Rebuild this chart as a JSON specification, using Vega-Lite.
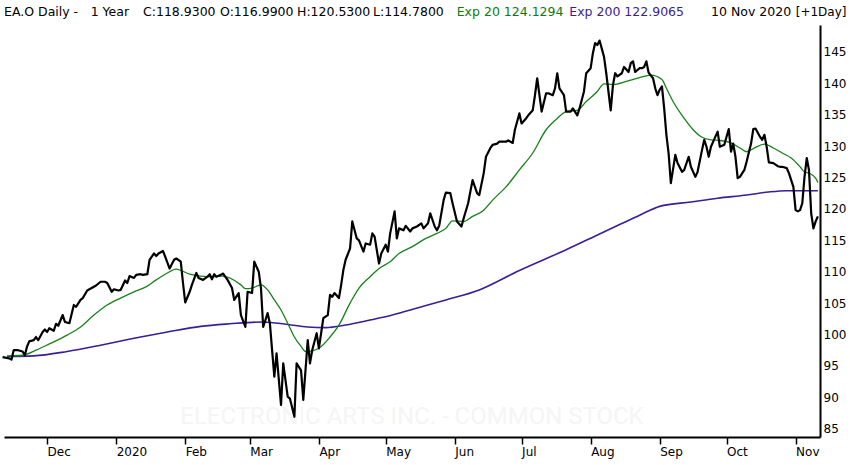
{
  "$schema": "https://vega.github.io/schema/vega-lite/v6.json",
  "description": "EA.O daily close, 1 year, with 20 and 200 day exponential averages.",
  "width": 816,
  "height": 412,
  "autosize": {"type": "none"},
  "padding": {"left": 4, "top": 25, "right": 30, "bottom": 28},
  "background": "#ffffff",
  "datasets": {
    "price": [
      {"date": "2019-11-11", "value": 96.4}, {"date": "2019-11-14", "value": 96.2}, {"date": "2019-11-15", "value": 96.0},
      {"date": "2019-11-16", "value": 97.5}, {"date": "2019-11-18", "value": 97.5}, {"date": "2019-11-20", "value": 97.3},
      {"date": "2019-11-21", "value": 96.7}, {"date": "2019-11-22", "value": 98.1}, {"date": "2019-11-23", "value": 98.9},
      {"date": "2019-11-25", "value": 99.1}, {"date": "2019-11-26", "value": 99.6}, {"date": "2019-11-27", "value": 99.1},
      {"date": "2019-11-29", "value": 100.4}, {"date": "2019-11-30", "value": 100.8}, {"date": "2019-12-01", "value": 100.4},
      {"date": "2019-12-02", "value": 101.0}, {"date": "2019-12-04", "value": 100.6}, {"date": "2019-12-05", "value": 101.7},
      {"date": "2019-12-06", "value": 101.4}, {"date": "2019-12-08", "value": 103.1}, {"date": "2019-12-09", "value": 102.0},
      {"date": "2019-12-11", "value": 101.8}, {"date": "2019-12-13", "value": 104.7}, {"date": "2019-12-14", "value": 104.4},
      {"date": "2019-12-16", "value": 105.5}, {"date": "2019-12-17", "value": 105.8}, {"date": "2019-12-19", "value": 107.0},
      {"date": "2019-12-21", "value": 107.4}, {"date": "2019-12-23", "value": 107.8}, {"date": "2019-12-25", "value": 108.4},
      {"date": "2019-12-27", "value": 108.4}, {"date": "2019-12-28", "value": 108.2}, {"date": "2019-12-30", "value": 106.8},
      {"date": "2019-12-31", "value": 107.2}, {"date": "2020-01-02", "value": 107.0}, {"date": "2020-01-03", "value": 107.1},
      {"date": "2020-01-05", "value": 108.6}, {"date": "2020-01-06", "value": 108.2}, {"date": "2020-01-07", "value": 109.3},
      {"date": "2020-01-09", "value": 109.0}, {"date": "2020-01-10", "value": 109.5}, {"date": "2020-01-12", "value": 109.6},
      {"date": "2020-01-13", "value": 109.5}, {"date": "2020-01-15", "value": 109.6}, {"date": "2020-01-16", "value": 111.9},
      {"date": "2020-01-18", "value": 112.9}, {"date": "2020-01-19", "value": 112.5}, {"date": "2020-01-20", "value": 112.9},
      {"date": "2020-01-22", "value": 113.3}, {"date": "2020-01-23", "value": 112.4}, {"date": "2020-01-25", "value": 110.5},
      {"date": "2020-01-27", "value": 111.9}, {"date": "2020-01-28", "value": 112.1}, {"date": "2020-01-30", "value": 111.6},
      {"date": "2020-01-31", "value": 108.2}, {"date": "2020-02-01", "value": 105.1}, {"date": "2020-02-03", "value": 106.8},
      {"date": "2020-02-04", "value": 107.9}, {"date": "2020-02-06", "value": 109.8}, {"date": "2020-02-07", "value": 109.0},
      {"date": "2020-02-09", "value": 108.7}, {"date": "2020-02-11", "value": 109.2}, {"date": "2020-02-12", "value": 109.6},
      {"date": "2020-02-13", "value": 108.8}, {"date": "2020-02-14", "value": 109.6}, {"date": "2020-02-15", "value": 109.2},
      {"date": "2020-02-17", "value": 109.5}, {"date": "2020-02-18", "value": 109.7}, {"date": "2020-02-20", "value": 108.7},
      {"date": "2020-02-22", "value": 107.4}, {"date": "2020-02-23", "value": 105.5}, {"date": "2020-02-25", "value": 106.6},
      {"date": "2020-02-26", "value": 103.1}, {"date": "2020-02-28", "value": 101.2}, {"date": "2020-02-29", "value": 106.8},
      {"date": "2020-03-02", "value": 106.6}, {"date": "2020-03-03", "value": 111.6}, {"date": "2020-03-05", "value": 110.0},
      {"date": "2020-03-06", "value": 107.4}, {"date": "2020-03-07", "value": 101.2}, {"date": "2020-03-09", "value": 103.4},
      {"date": "2020-03-10", "value": 101.8}, {"date": "2020-03-11", "value": 97.5}, {"date": "2020-03-12", "value": 93.3},
      {"date": "2020-03-13", "value": 97.0}, {"date": "2020-03-15", "value": 88.8}, {"date": "2020-03-16", "value": 95.4},
      {"date": "2020-03-18", "value": 90.1}, {"date": "2020-03-19", "value": 89.8}, {"date": "2020-03-21", "value": 86.9},
      {"date": "2020-03-22", "value": 95.4}, {"date": "2020-03-24", "value": 94.3}, {"date": "2020-03-25", "value": 89.6},
      {"date": "2020-03-27", "value": 99.1}, {"date": "2020-03-28", "value": 95.4}, {"date": "2020-03-29", "value": 97.5},
      {"date": "2020-03-31", "value": 100.2}, {"date": "2020-04-01", "value": 97.8}, {"date": "2020-04-02", "value": 100.2},
      {"date": "2020-04-03", "value": 102.6}, {"date": "2020-04-05", "value": 103.1}, {"date": "2020-04-06", "value": 106.3},
      {"date": "2020-04-07", "value": 106.0}, {"date": "2020-04-08", "value": 106.6}, {"date": "2020-04-10", "value": 105.8},
      {"date": "2020-04-11", "value": 107.9}, {"date": "2020-04-12", "value": 110.3}, {"date": "2020-04-13", "value": 111.9},
      {"date": "2020-04-15", "value": 113.7}, {"date": "2020-04-16", "value": 118.0}, {"date": "2020-04-18", "value": 115.3},
      {"date": "2020-04-19", "value": 115.0}, {"date": "2020-04-21", "value": 113.2}, {"date": "2020-04-22", "value": 114.5},
      {"date": "2020-04-24", "value": 114.3}, {"date": "2020-04-25", "value": 116.1}, {"date": "2020-04-26", "value": 115.6},
      {"date": "2020-04-28", "value": 111.3}, {"date": "2020-04-29", "value": 112.9}, {"date": "2020-05-01", "value": 114.3},
      {"date": "2020-05-02", "value": 113.2}, {"date": "2020-05-03", "value": 116.1}, {"date": "2020-05-05", "value": 119.6},
      {"date": "2020-05-06", "value": 115.3}, {"date": "2020-05-07", "value": 116.9}, {"date": "2020-05-09", "value": 116.6},
      {"date": "2020-05-10", "value": 117.3}, {"date": "2020-05-12", "value": 116.4}, {"date": "2020-05-13", "value": 116.9},
      {"date": "2020-05-15", "value": 117.2}, {"date": "2020-05-17", "value": 117.7}, {"date": "2020-05-18", "value": 116.9},
      {"date": "2020-05-20", "value": 117.7}, {"date": "2020-05-21", "value": 119.3}, {"date": "2020-05-23", "value": 117.2},
      {"date": "2020-05-24", "value": 116.6}, {"date": "2020-05-25", "value": 117.3}, {"date": "2020-05-27", "value": 121.4},
      {"date": "2020-05-28", "value": 122.6}, {"date": "2020-05-30", "value": 122.5}, {"date": "2020-05-31", "value": 120.9},
      {"date": "2020-06-02", "value": 118.0}, {"date": "2020-06-04", "value": 117.2}, {"date": "2020-06-05", "value": 118.5},
      {"date": "2020-06-07", "value": 120.9}, {"date": "2020-06-09", "value": 124.6}, {"date": "2020-06-11", "value": 122.5},
      {"date": "2020-06-12", "value": 122.2}, {"date": "2020-06-14", "value": 125.7}, {"date": "2020-06-15", "value": 128.3},
      {"date": "2020-06-17", "value": 129.7}, {"date": "2020-06-18", "value": 130.2}, {"date": "2020-06-20", "value": 130.4},
      {"date": "2020-06-21", "value": 130.7}, {"date": "2020-06-24", "value": 130.7}, {"date": "2020-06-25", "value": 130.9},
      {"date": "2020-06-27", "value": 130.5}, {"date": "2020-06-28", "value": 132.6}, {"date": "2020-06-30", "value": 135.2},
      {"date": "2020-07-01", "value": 133.6}, {"date": "2020-07-03", "value": 134.4}, {"date": "2020-07-04", "value": 134.9},
      {"date": "2020-07-06", "value": 135.7}, {"date": "2020-07-07", "value": 138.1}, {"date": "2020-07-08", "value": 140.8},
      {"date": "2020-07-10", "value": 135.5}, {"date": "2020-07-12", "value": 138.4}, {"date": "2020-07-13", "value": 138.4},
      {"date": "2020-07-15", "value": 138.1}, {"date": "2020-07-16", "value": 139.2}, {"date": "2020-07-17", "value": 141.6},
      {"date": "2020-07-18", "value": 139.2}, {"date": "2020-07-20", "value": 138.1}, {"date": "2020-07-21", "value": 135.5},
      {"date": "2020-07-23", "value": 135.5}, {"date": "2020-07-24", "value": 136.0}, {"date": "2020-07-26", "value": 134.9},
      {"date": "2020-07-27", "value": 136.0}, {"date": "2020-07-29", "value": 138.7}, {"date": "2020-07-30", "value": 141.6},
      {"date": "2020-08-01", "value": 142.4}, {"date": "2020-08-02", "value": 144.8}, {"date": "2020-08-03", "value": 146.4},
      {"date": "2020-08-04", "value": 146.1}, {"date": "2020-08-05", "value": 146.8}, {"date": "2020-08-07", "value": 144.2},
      {"date": "2020-08-08", "value": 141.6}, {"date": "2020-08-10", "value": 135.7}, {"date": "2020-08-11", "value": 139.7},
      {"date": "2020-08-12", "value": 141.6}, {"date": "2020-08-13", "value": 141.1}, {"date": "2020-08-15", "value": 141.6},
      {"date": "2020-08-16", "value": 142.6}, {"date": "2020-08-18", "value": 141.8}, {"date": "2020-08-19", "value": 143.2},
      {"date": "2020-08-20", "value": 143.5}, {"date": "2020-08-21", "value": 141.8}, {"date": "2020-08-23", "value": 142.4},
      {"date": "2020-08-24", "value": 142.4}, {"date": "2020-08-25", "value": 142.6}, {"date": "2020-08-26", "value": 143.5},
      {"date": "2020-08-27", "value": 141.7}, {"date": "2020-08-29", "value": 140.8}, {"date": "2020-08-30", "value": 139.2},
      {"date": "2020-08-31", "value": 138.1}, {"date": "2020-09-01", "value": 139.0}, {"date": "2020-09-02", "value": 139.5},
      {"date": "2020-09-03", "value": 136.0}, {"date": "2020-09-04", "value": 131.8}, {"date": "2020-09-05", "value": 128.8},
      {"date": "2020-09-06", "value": 124.1}, {"date": "2020-09-08", "value": 128.6}, {"date": "2020-09-09", "value": 127.3},
      {"date": "2020-09-11", "value": 125.9}, {"date": "2020-09-12", "value": 126.2}, {"date": "2020-09-14", "value": 128.3},
      {"date": "2020-09-15", "value": 126.7}, {"date": "2020-09-17", "value": 125.1}, {"date": "2020-09-18", "value": 125.9},
      {"date": "2020-09-20", "value": 129.4}, {"date": "2020-09-21", "value": 131.0}, {"date": "2020-09-22", "value": 129.9},
      {"date": "2020-09-23", "value": 128.3}, {"date": "2020-09-24", "value": 129.9}, {"date": "2020-09-26", "value": 131.5},
      {"date": "2020-09-27", "value": 132.3}, {"date": "2020-09-28", "value": 129.9}, {"date": "2020-09-30", "value": 130.2},
      {"date": "2020-10-01", "value": 131.5}, {"date": "2020-10-02", "value": 132.7}, {"date": "2020-10-03", "value": 129.1},
      {"date": "2020-10-04", "value": 130.4}, {"date": "2020-10-05", "value": 128.3}, {"date": "2020-10-06", "value": 124.9},
      {"date": "2020-10-07", "value": 125.1}, {"date": "2020-10-09", "value": 126.2}, {"date": "2020-10-10", "value": 127.5},
      {"date": "2020-10-12", "value": 130.4}, {"date": "2020-10-13", "value": 132.7}, {"date": "2020-10-14", "value": 132.8},
      {"date": "2020-10-16", "value": 131.5}, {"date": "2020-10-17", "value": 131.0}, {"date": "2020-10-18", "value": 131.8},
      {"date": "2020-10-19", "value": 129.9}, {"date": "2020-10-20", "value": 127.4}, {"date": "2020-10-22", "value": 127.3},
      {"date": "2020-10-24", "value": 126.8}, {"date": "2020-10-25", "value": 126.7}, {"date": "2020-10-26", "value": 126.7},
      {"date": "2020-10-28", "value": 126.5}, {"date": "2020-10-29", "value": 125.7}, {"date": "2020-10-31", "value": 123.5},
      {"date": "2020-11-01", "value": 119.8}, {"date": "2020-11-02", "value": 119.6}, {"date": "2020-11-03", "value": 119.8},
      {"date": "2020-11-04", "value": 120.9}, {"date": "2020-11-05", "value": 125.1}, {"date": "2020-11-06", "value": 128.1},
      {"date": "2020-11-07", "value": 126.2}, {"date": "2020-11-08", "value": 119.3}, {"date": "2020-11-09", "value": 116.9},
      {"date": "2020-11-10", "value": 118.0}, {"date": "2020-11-11", "value": 118.8}
    ],
    "ema20": [
      {"date": "2019-11-13", "value": 96.6}, {"date": "2019-11-20", "value": 96.7}, {"date": "2019-11-26", "value": 97.5},
      {"date": "2019-12-02", "value": 98.5}, {"date": "2019-12-10", "value": 99.9}, {"date": "2019-12-16", "value": 101.2},
      {"date": "2019-12-22", "value": 103.1}, {"date": "2019-12-28", "value": 104.7}, {"date": "2020-01-03", "value": 105.8},
      {"date": "2020-01-09", "value": 106.8}, {"date": "2020-01-15", "value": 107.7}, {"date": "2020-01-19", "value": 108.7},
      {"date": "2020-01-24", "value": 109.8}, {"date": "2020-01-28", "value": 110.4}, {"date": "2020-01-30", "value": 110.2},
      {"date": "2020-02-03", "value": 109.6}, {"date": "2020-02-08", "value": 109.3}, {"date": "2020-02-14", "value": 109.2},
      {"date": "2020-02-18", "value": 109.3}, {"date": "2020-02-21", "value": 109.0}, {"date": "2020-02-26", "value": 107.9},
      {"date": "2020-02-28", "value": 107.3}, {"date": "2020-03-02", "value": 107.4}, {"date": "2020-03-06", "value": 107.9},
      {"date": "2020-03-09", "value": 107.1}, {"date": "2020-03-12", "value": 105.5}, {"date": "2020-03-15", "value": 103.9},
      {"date": "2020-03-18", "value": 101.8}, {"date": "2020-03-21", "value": 99.6}, {"date": "2020-03-24", "value": 98.1},
      {"date": "2020-03-26", "value": 97.3}, {"date": "2020-03-29", "value": 97.4}, {"date": "2020-04-01", "value": 97.8},
      {"date": "2020-04-06", "value": 99.6}, {"date": "2020-04-10", "value": 101.5}, {"date": "2020-04-15", "value": 105.0},
      {"date": "2020-04-19", "value": 107.4}, {"date": "2020-04-24", "value": 109.2}, {"date": "2020-04-28", "value": 110.5},
      {"date": "2020-05-03", "value": 111.6}, {"date": "2020-05-07", "value": 112.9}, {"date": "2020-05-13", "value": 114.0},
      {"date": "2020-05-19", "value": 115.3}, {"date": "2020-05-24", "value": 116.1}, {"date": "2020-05-28", "value": 116.9},
      {"date": "2020-05-31", "value": 118.1}, {"date": "2020-06-05", "value": 118.0}, {"date": "2020-06-09", "value": 118.8},
      {"date": "2020-06-14", "value": 119.8}, {"date": "2020-06-18", "value": 121.4}, {"date": "2020-06-24", "value": 123.5},
      {"date": "2020-06-30", "value": 126.2}, {"date": "2020-07-06", "value": 128.9}, {"date": "2020-07-12", "value": 132.6},
      {"date": "2020-07-17", "value": 134.4}, {"date": "2020-07-21", "value": 135.5}, {"date": "2020-07-26", "value": 135.7},
      {"date": "2020-07-30", "value": 137.1}, {"date": "2020-08-04", "value": 138.7}, {"date": "2020-08-07", "value": 139.9},
      {"date": "2020-08-11", "value": 139.8}, {"date": "2020-08-17", "value": 140.3}, {"date": "2020-08-23", "value": 140.9},
      {"date": "2020-08-28", "value": 141.3}, {"date": "2020-09-02", "value": 140.6}, {"date": "2020-09-04", "value": 139.2},
      {"date": "2020-09-07", "value": 137.1}, {"date": "2020-09-12", "value": 134.4}, {"date": "2020-09-16", "value": 132.6},
      {"date": "2020-09-20", "value": 131.4}, {"date": "2020-09-24", "value": 131.0}, {"date": "2020-09-28", "value": 130.9},
      {"date": "2020-10-03", "value": 130.5}, {"date": "2020-10-07", "value": 129.7}, {"date": "2020-10-10", "value": 129.1},
      {"date": "2020-10-14", "value": 129.8}, {"date": "2020-10-18", "value": 130.3}, {"date": "2020-10-22", "value": 129.7},
      {"date": "2020-10-26", "value": 128.9}, {"date": "2020-10-30", "value": 128.1}, {"date": "2020-11-03", "value": 126.7},
      {"date": "2020-11-05", "value": 125.9}, {"date": "2020-11-07", "value": 125.7}, {"date": "2020-11-10", "value": 124.9},
      {"date": "2020-11-11", "value": 124.2}
    ],
    "ema200": [
      {"date": "2019-11-13", "value": 96.5}, {"date": "2019-11-25", "value": 96.6}, {"date": "2019-12-10", "value": 97.3},
      {"date": "2019-12-25", "value": 98.3}, {"date": "2020-01-09", "value": 99.4}, {"date": "2020-01-24", "value": 100.4},
      {"date": "2020-02-08", "value": 101.3}, {"date": "2020-02-21", "value": 101.7}, {"date": "2020-03-07", "value": 102.0},
      {"date": "2020-03-18", "value": 101.6}, {"date": "2020-03-27", "value": 101.2}, {"date": "2020-04-04", "value": 101.1},
      {"date": "2020-04-13", "value": 101.5}, {"date": "2020-04-24", "value": 102.3}, {"date": "2020-05-04", "value": 103.1},
      {"date": "2020-05-16", "value": 104.3}, {"date": "2020-05-28", "value": 105.5}, {"date": "2020-06-12", "value": 107.1},
      {"date": "2020-06-30", "value": 110.2}, {"date": "2020-07-21", "value": 113.5}, {"date": "2020-08-05", "value": 116.0},
      {"date": "2020-08-14", "value": 117.5}, {"date": "2020-08-23", "value": 119.0}, {"date": "2020-09-01", "value": 120.4},
      {"date": "2020-09-15", "value": 121.1}, {"date": "2020-09-27", "value": 121.7}, {"date": "2020-10-10", "value": 122.2},
      {"date": "2020-10-20", "value": 122.7}, {"date": "2020-10-28", "value": 122.9}, {"date": "2020-11-06", "value": 122.9},
      {"date": "2020-11-11", "value": 122.9}
    ]
  },
  "layer": [
    {
      "data": {"values": [{}]},
      "mark": {"type": "text", "text": "ELECTRONIC ARTS INC. - COMMON STOCK", "font": "Roboto", "fontSize": 24, "color": "#f5f5f5", "align": "center", "baseline": "middle"},
      "encoding": {
        "x": {"datum": {"year": 2020, "month": 5, "date": 12, "hours": 19, "utc": true}, "type": "temporal", "title": null},
        "y": {"datum": 86.86, "type": "quantitative", "title": null}
      }
    },
    {
      "data": {"name": "ema200"},
      "mark": {"type": "line", "color": "#3b1d98", "strokeWidth": 1.6, "interpolate": "monotone"},
      "encoding": {
        "x": {"field": "date", "type": "temporal", "title": null},
        "y": {"field": "value", "type": "quantitative", "title": null}
      }
    },
    {
      "data": {"name": "ema20"},
      "mark": {"type": "line", "color": "#17801a", "strokeWidth": 1.3, "interpolate": "monotone"},
      "encoding": {
        "x": {"field": "date", "type": "temporal", "title": null},
        "y": {"field": "value", "type": "quantitative", "title": null}
      }
    },
    {
      "data": {"name": "price"},
      "mark": {"type": "line", "color": "#000000", "strokeWidth": 2.2, "strokeJoin": "round"},
      "encoding": {
        "x": {
          "field": "date",
          "type": "temporal",
          "title": null,
          "scale": {"domain": [{"year": 2019, "month": 11, "date": 11, "hours": 15, "minutes": 36, "utc": true}, {"year": 2020, "month": 11, "date": 11, "hours": 22, "minutes": 48, "utc": true}]},
          "axis": {
            "tickCount": {"interval": "month", "step": 1},
            "labelExpr": "month(datum.value) == 0 ? timeFormat(datum.value, '%Y') : timeFormat(datum.value, '%b')"
          }
        },
        "y": {
          "field": "value",
          "type": "quantitative",
          "title": null,
          "scale": {"domain": [83.68, 149.28], "nice": false, "zero": false},
          "axis": {"orient": "right", "values": [85, 90, 95, 100, 105, 110, 115, 120, 125, 130, 135, 140, 145], "tickCount": 13, "labelOverlap": false, "labelBound": false}
        }
      }
    },
    {
      "data": {"values": [{}]},
      "mark": {"type": "text", "text": "EA.O Daily -", "fontSize": 12.5, "color": "#000000", "align": "left", "baseline": "middle"},
      "encoding": {
        "x": {"datum": {"year": 2019, "month": 11, "date": 11, "hours": 15, "minutes": 36, "utc": true}, "type": "temporal", "title": null},
        "y": {"datum": 151.35, "type": "quantitative", "title": null}
      }
    },
    {
      "data": {"values": [{}]},
      "mark": {"type": "text", "text": "1 Year", "fontSize": 12.5, "color": "#000000", "align": "left", "baseline": "middle"},
      "encoding": {
        "x": {"datum": {"year": 2019, "month": 12, "date": 20, "hours": 13, "utc": true}, "type": "temporal", "title": null},
        "y": {"datum": 151.35, "type": "quantitative", "title": null}
      }
    },
    {
      "data": {"values": [{}]},
      "mark": {"type": "text", "text": "C:118.9300", "fontSize": 12.5, "color": "#000000", "align": "left", "baseline": "middle"},
      "encoding": {
        "x": {"datum": {"year": 2020, "month": 1, "date": 13, "hours": 1, "utc": true}, "type": "temporal", "title": null},
        "y": {"datum": 151.35, "type": "quantitative", "title": null}
      }
    },
    {
      "data": {"values": [{}]},
      "mark": {"type": "text", "text": "O:116.9900", "fontSize": 12.5, "color": "#000000", "align": "left", "baseline": "middle"},
      "encoding": {
        "x": {"datum": {"year": 2020, "month": 2, "date": 16, "hours": 15, "utc": true}, "type": "temporal", "title": null},
        "y": {"datum": 151.35, "type": "quantitative", "title": null}
      }
    },
    {
      "data": {"values": [{}]},
      "mark": {"type": "text", "text": "H:120.5300", "fontSize": 12.5, "color": "#000000", "align": "left", "baseline": "middle"},
      "encoding": {
        "x": {"datum": {"year": 2020, "month": 3, "date": 22, "hours": 4, "utc": true}, "type": "temporal", "title": null},
        "y": {"datum": 151.35, "type": "quantitative", "title": null}
      }
    },
    {
      "data": {"values": [{}]},
      "mark": {"type": "text", "text": "L:114.7800", "fontSize": 12.5, "color": "#000000", "align": "left", "baseline": "middle"},
      "encoding": {
        "x": {"datum": {"year": 2020, "month": 4, "date": 25, "hours": 7, "utc": true}, "type": "temporal", "title": null},
        "y": {"datum": 151.35, "type": "quantitative", "title": null}
      }
    },
    {
      "data": {"values": [{}]},
      "mark": {"type": "text", "text": "Exp 20 124.1294", "fontSize": 12.5, "color": "#0e7a10", "align": "left", "baseline": "middle"},
      "encoding": {
        "x": {"datum": {"year": 2020, "month": 6, "date": 1, "hours": 21, "utc": true}, "type": "temporal", "title": null},
        "y": {"datum": 151.35, "type": "quantitative", "title": null}
      }
    },
    {
      "data": {"values": [{}]},
      "mark": {"type": "text", "text": "Exp 200 122.9065", "fontSize": 12.5, "color": "#3a1f92", "align": "left", "baseline": "middle"},
      "encoding": {
        "x": {"datum": {"year": 2020, "month": 7, "date": 22, "hours": 10, "utc": true}, "type": "temporal", "title": null},
        "y": {"datum": 151.35, "type": "quantitative", "title": null}
      }
    },
    {
      "data": {"values": [{}]},
      "mark": {"type": "text", "text": "10 Nov 2020", "fontSize": 12.5, "color": "#000000", "align": "left", "baseline": "middle"},
      "encoding": {
        "x": {"datum": {"year": 2020, "month": 9, "date": 24, "hours": 1, "utc": true}, "type": "temporal", "title": null},
        "y": {"datum": 151.35, "type": "quantitative", "title": null}
      }
    },
    {
      "data": {"values": [{}]},
      "mark": {"type": "text", "text": "[+1Day]", "fontSize": 12, "color": "#000000", "align": "left", "baseline": "middle"},
      "encoding": {
        "x": {"datum": {"year": 2020, "month": 11, "date": 1, "hours": 1, "utc": true}, "type": "temporal", "title": null},
        "y": {"datum": 151.35, "type": "quantitative", "title": null}
      }
    }
  ],
  "config": {
    "view": {"stroke": null},
    "font": "DejaVu Sans",
    "axis": {
      "grid": false,
      "domainColor": "#000000",
      "domainWidth": 2,
      "labelColor": "#000000",
      "labelFont": "DejaVu Sans",
      "labelFontSize": 12,
      "tickColor": "#000000"
    },
    "axisX": {"tickSize": 7, "tickWidth": 1.5, "labelAlign": "left", "labelPadding": 2, "labelDx": 1, "labelFlush": false, "labelOverlap": false},
    "axisY": {"ticks": false, "labelPadding": 3, "labelFlush": false, "labelOverlap": false}
  }
}
